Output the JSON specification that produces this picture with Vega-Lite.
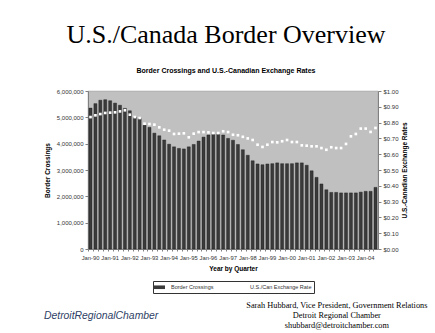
{
  "$schema": "https://vega.github.io/schema/vega-lite/v6.json",
  "background": "white",
  "padding": {"left": 43, "top": 21, "right": 10, "bottom": 4},
  "title": {"text": "DetroitRegionalChamber", "orient": "bottom", "anchor": "start", "frame": "bounds", "font": "Liberation Sans", "fontStyle": "italic", "fontWeight": "normal", "fontSize": 10.4, "color": "#2f3f66", "offset": 0, "dy": -18},
  "vconcat": [
    {
      "title": {"text": ["Sarah Hubbard, Vice President, Government Relations", "Detroit Regional Chamber", "shubbard@detroitchamber.com"], "orient": "bottom", "anchor": "end", "align": "center", "frame": "bounds", "font": "Liberation Serif", "fontSize": 8.3, "fontWeight": "normal", "color": "black", "lineHeight": 10, "offset": 28, "dx": -71},
      "vconcat": [
        {
          "width": 290,
          "height": 158,
          "title": {"text": "U.S./Canada Border Overview", "subtitle": "Border Crossings and U.S.-Canadian Exchange Rates", "anchor": "middle", "frame": "group", "dx": -7, "font": "Liberation Serif", "fontSize": 26, "fontWeight": "normal", "color": "black", "subtitleFont": "Liberation Sans", "subtitleFontSize": 7, "subtitleFontWeight": "bold", "subtitleColor": "black", "subtitlePadding": 19, "offset": 14},
          "data": {"values": [
            {"q": "Jan-90", "crossings": 5350000, "rate": 0.835},
            {"q": "Apr-90", "crossings": 5520000, "rate": 0.846},
            {"q": "Jul-90", "crossings": 5650000, "rate": 0.854},
            {"q": "Oct-90", "crossings": 5670000, "rate": 0.861},
            {"q": "Jan-91", "crossings": 5630000, "rate": 0.863},
            {"q": "Apr-91", "crossings": 5540000, "rate": 0.865},
            {"q": "Jul-91", "crossings": 5460000, "rate": 0.871},
            {"q": "Oct-91", "crossings": 5340000, "rate": 0.878},
            {"q": "Jan-92", "crossings": 5250000, "rate": 0.85},
            {"q": "Apr-92", "crossings": 5000000, "rate": 0.835},
            {"q": "Jul-92", "crossings": 4950000, "rate": 0.829},
            {"q": "Oct-92", "crossings": 4700000, "rate": 0.793},
            {"q": "Jan-93", "crossings": 4620000, "rate": 0.791},
            {"q": "Apr-93", "crossings": 4400000, "rate": 0.787},
            {"q": "Jul-93", "crossings": 4300000, "rate": 0.77},
            {"q": "Oct-93", "crossings": 4140000, "rate": 0.755},
            {"q": "Jan-94", "crossings": 3980000, "rate": 0.749},
            {"q": "Apr-94", "crossings": 3880000, "rate": 0.728},
            {"q": "Jul-94", "crossings": 3820000, "rate": 0.73},
            {"q": "Oct-94", "crossings": 3800000, "rate": 0.732},
            {"q": "Jan-95", "crossings": 3880000, "rate": 0.707},
            {"q": "Apr-95", "crossings": 3970000, "rate": 0.73},
            {"q": "Jul-95", "crossings": 4100000, "rate": 0.74},
            {"q": "Oct-95", "crossings": 4250000, "rate": 0.74},
            {"q": "Jan-96", "crossings": 4330000, "rate": 0.738},
            {"q": "Apr-96", "crossings": 4350000, "rate": 0.734},
            {"q": "Jul-96", "crossings": 4350000, "rate": 0.734},
            {"q": "Oct-96", "crossings": 4330000, "rate": 0.745},
            {"q": "Jan-97", "crossings": 4200000, "rate": 0.74},
            {"q": "Apr-97", "crossings": 4130000, "rate": 0.723},
            {"q": "Jul-97", "crossings": 3970000, "rate": 0.72},
            {"q": "Oct-97", "crossings": 3770000, "rate": 0.71},
            {"q": "Jan-98", "crossings": 3560000, "rate": 0.70},
            {"q": "Apr-98", "crossings": 3350000, "rate": 0.69},
            {"q": "Jul-98", "crossings": 3230000, "rate": 0.66},
            {"q": "Oct-98", "crossings": 3200000, "rate": 0.646},
            {"q": "Jan-99", "crossings": 3230000, "rate": 0.66},
            {"q": "Apr-99", "crossings": 3240000, "rate": 0.677},
            {"q": "Jul-99", "crossings": 3270000, "rate": 0.675},
            {"q": "Oct-99", "crossings": 3240000, "rate": 0.682},
            {"q": "Jan-00", "crossings": 3240000, "rate": 0.69},
            {"q": "Apr-00", "crossings": 3240000, "rate": 0.677},
            {"q": "Jul-00", "crossings": 3270000, "rate": 0.677},
            {"q": "Oct-00", "crossings": 3270000, "rate": 0.656},
            {"q": "Jan-01", "crossings": 3180000, "rate": 0.654},
            {"q": "Apr-01", "crossings": 2970000, "rate": 0.65},
            {"q": "Jul-01", "crossings": 2720000, "rate": 0.65},
            {"q": "Oct-01", "crossings": 2470000, "rate": 0.639},
            {"q": "Jan-02", "crossings": 2250000, "rate": 0.628},
            {"q": "Apr-02", "crossings": 2150000, "rate": 0.644},
            {"q": "Jul-02", "crossings": 2150000, "rate": 0.639},
            {"q": "Oct-02", "crossings": 2130000, "rate": 0.639},
            {"q": "Jan-03", "crossings": 2130000, "rate": 0.665},
            {"q": "Apr-03", "crossings": 2130000, "rate": 0.713},
            {"q": "Jul-03", "crossings": 2130000, "rate": 0.728},
            {"q": "Oct-03", "crossings": 2160000, "rate": 0.762},
            {"q": "Jan-04", "crossings": 2190000, "rate": 0.762},
            {"q": "Apr-04", "crossings": 2190000, "rate": 0.741},
            {"q": "Jul-04", "crossings": 2340000, "rate": 0.766}
          ]},
          "layer": [
            {
              "mark": {"type": "bar", "stroke": "#1a1a1a", "strokeWidth": 0.4},
              "encoding": {
                "x": {"field": "q", "type": "ordinal", "sort": null,
                  "scale": {"paddingInner": 0.38, "paddingOuter": 0.2},
                  "axis": {"title": "Year by Quarter", "labelAngle": 0, "labelOverlap": false, "labelExpr": "substring(datum.value, 0, 3) == 'Jan' ? datum.value : ''", "bandPosition": 0, "tickSize": 2, "labelPadding": 3, "labelFontSize": 5.8, "titlePadding": 6}},
                "y": {"field": "crossings", "type": "quantitative",
                  "scale": {"domain": [0, 6000000], "nice": false},
                  "axis": {"title": "Border Crossings", "values": [0, 1000000, 2000000, 3000000, 4000000, 5000000, 6000000], "format": ",d", "grid": false, "titlePadding": 6}},
                "color": {"datum": "Border Crossings", "type": "nominal",
                  "scale": {"domain": ["Border Crossings", "U.S./Can Exchange Rate"], "range": ["#3a3a3a", "#ffffff"]},
                  "legend": {"title": null, "orient": "none", "legendX": 65, "legendY": 190, "direction": "horizontal", "strokeColor": "#333", "fillColor": "white", "padding": 2, "labelFont": "Liberation Sans", "labelFontSize": 5.5, "labelColor": "#333", "symbolType": "M-1.5,-0.45H1.5V0.45H-1.5Z", "symbolSize": 64, "symbolStrokeWidth": 0, "symbolOpacity": 1, "columnPadding": 18, "labelOffset": 8}}
              }
            },
            {
              "mark": {"type": "point", "shape": "square", "filled": true, "size": 7, "opacity": 1},
              "encoding": {
                "x": {"field": "q", "type": "ordinal", "sort": null},
                "y": {"field": "rate", "type": "quantitative",
                  "scale": {"domain": [0, 1], "nice": false},
                  "axis": {"orient": "right", "title": "U.S.-Canadian Exchange Rates", "titleAngle": 270, "values": [0, 0.1, 0.2, 0.3, 0.4, 0.5, 0.6, 0.7, 0.8, 0.9, 1.0], "format": "$.2f", "grid": false, "titlePadding": 9}},
                "color": {"datum": "U.S./Can Exchange Rate", "type": "nominal"}
              }
            }
          ],
          "resolve": {"scale": {"y": "independent"}}
        }
      ]
    }
  ],
  "config": {
    "view": {"fill": "#c0c0c0", "stroke": "#999999", "strokeWidth": 0.7},
    "axis": {"labelFont": "Liberation Sans", "labelFontSize": 6, "labelColor": "#333", "titleFont": "Liberation Sans", "titleFontSize": 6.5, "titleFontWeight": "bold", "titleColor": "black", "domainColor": "#808080", "tickColor": "#808080", "tickSize": 3, "labelPadding": 2},
    "concat": {"spacing": 0}
  }
}
